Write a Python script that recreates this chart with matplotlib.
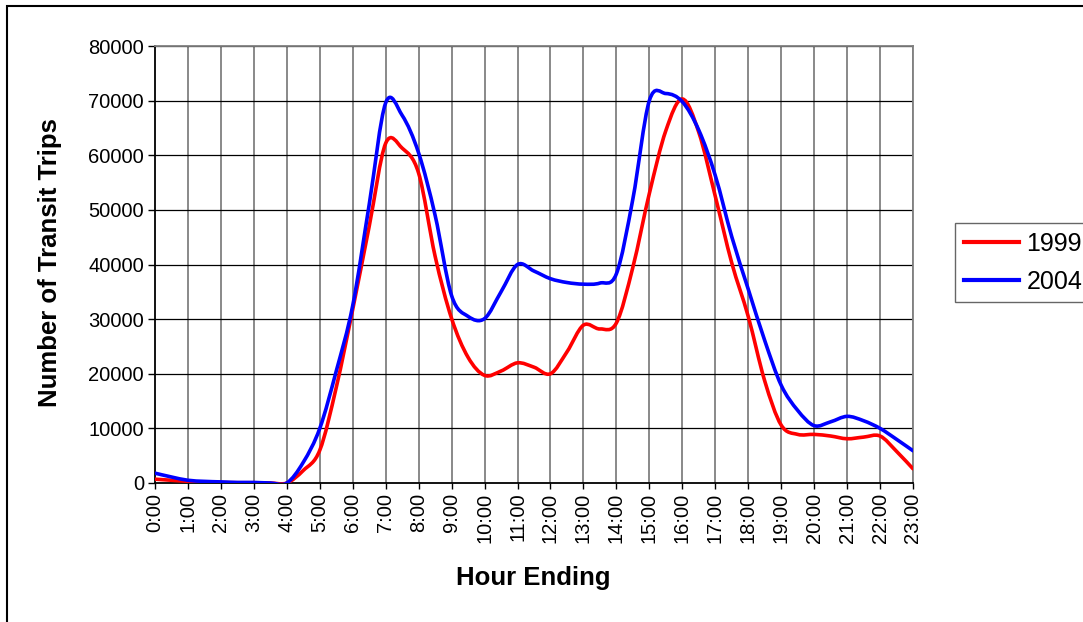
"""
Hourly transit trips, 1999 vs 2004 (Excel style smoothed lines).
"""

import numpy as np
import matplotlib
matplotlib.use("Agg")
import matplotlib.pyplot as plt
from matplotlib.path import Path
from matplotlib.patches import PathPatch, Rectangle
from matplotlib.lines import Line2D

plt.rcParams['font.family'] = ['Liberation Sans', 'DejaVu Sans']

# half hour steps, 0:00 .. 23:00
hours = np.arange(0, 23.5, 0.5)

trips_1999 = [700, 500, 300, 150, 100, 50, 50, 0, 0, 2300,
              6000, 17500, 31800, 47000, 62200, 61300, 56700, 41500, 30100, 23000,
              19700, 20500, 22000, 21200, 20000, 24000, 28900, 28200, 29300, 39500,
              53000, 64500, 70300, 64200, 52500, 40300, 30500, 18700, 10600, 8900,
              8900, 8600, 8100, 8400, 8600, 5800, 2600]

trips_2004 = [1800, 1100, 500, 300, 200, 100, 100, 0, 0, 3800,
              10000, 20500, 32500, 51000, 69600, 67300, 60400, 49000, 34300, 30500,
              30100, 35000, 40000, 38800, 37400, 36700, 36400, 36600, 38300, 52000,
              70000, 71300, 69800, 64600, 56300, 45100, 35500, 26100, 17900, 13300,
              10500, 11200, 12200, 11400, 10000, 8000, 5900]

series_names = ['1999', '2004']
series_colors = ['#FF0000', '#0000FF']

x_ticks = list(range(24))
x_tick_labels = ['%d:00' % h for h in x_ticks]
y_ticks = list(range(0, 80001, 10000))
y_tick_labels = [str(v) for v in y_ticks]


def smooth_path(x, y):
    """Bezier path through the points, like Excel's smoothed line."""
    pts = np.column_stack([x, y]).astype(float)
    padded = np.vstack([pts[0], pts, pts[-1]])
    verts = [pts[0]]
    codes = [Path.MOVETO]
    for i in range(len(pts) - 1):
        p0, p1, p2, p3 = padded[i], padded[i + 1], padded[i + 2], padded[i + 3]
        verts += [p1 + (p2 - p0) / 6.0, p2 - (p3 - p1) / 6.0, p2]
        codes += [Path.CURVE4] * 3
    return Path(verts, codes)


W, H = 1083, 622
fig = plt.figure(figsize=(W / 100, H / 100), dpi=100)
ax = fig.add_axes([155 / W, 1 - 483 / H, (913 - 155) / W, (483 - 46) / H])

# grid: grey verticals, black horizontals
for t in x_ticks[1:]:
    ax.axvline(t, color='#808080', lw=1.3, zorder=1)
for t in y_ticks[1:]:
    ax.axhline(t, color='black', lw=0.9, zorder=1)

handles = []
for values, name, color in zip([trips_1999, trips_2004], series_names, series_colors):
    patch = PathPatch(smooth_path(hours, values), fill=False, edgecolor=color,
                      lw=2.6, joinstyle='round', capstyle='round', zorder=3)
    ax.add_patch(patch)
    handles.append(Line2D([], [], color=color, lw=3.0))

ax.set_xlim(0, 23)
ax.set_ylim(0, 80000)
ax.set_xticks(x_ticks)
ax.set_xticklabels(x_tick_labels, rotation=90, fontsize=14.5)
ax.set_yticks(y_ticks)
ax.set_yticklabels(y_tick_labels, fontsize=14.5)
ax.tick_params(axis='x', direction='out', length=4, width=1, pad=3)
ax.tick_params(axis='y', direction='out', length=5, width=1, pad=3)

ax.spines['left'].set_color('black')
ax.spines['bottom'].set_color('black')
ax.spines['top'].set_color('#808080')
ax.spines['right'].set_color('#808080')
for s in ax.spines.values():
    s.set_linewidth(1.3)

fig.text(50 / W, 1 - 263 / H, 'Number of Transit Trips', rotation=90,
         ha='center', va='center', fontsize=18.5, fontweight='bold')
fig.text(533 / W, 1 - 578 / H, 'Hour Ending', ha='center', va='center',
         fontsize=18.5, fontweight='bold')

leg = fig.legend(handles, series_names, loc='upper left',
                 bbox_to_anchor=(955 / W, 1 - 223 / H), bbox_transform=fig.transFigure,
                 fontsize=18, frameon=True, fancybox=False, borderaxespad=0,
                 handlelength=2.2, handletextpad=0.3, borderpad=0.35,
                 labelspacing=0.55)
leg.get_frame().set_edgecolor('#404040')
leg.get_frame().set_linewidth(1.0)

# outer chart border
fig.add_artist(Rectangle((7 / W, -0.1), 1.2, 1.1 - 6 / H, transform=fig.transFigure,
                         fill=False, edgecolor='black', lw=1.5))

fig.savefig('out.png', dpi=100)
